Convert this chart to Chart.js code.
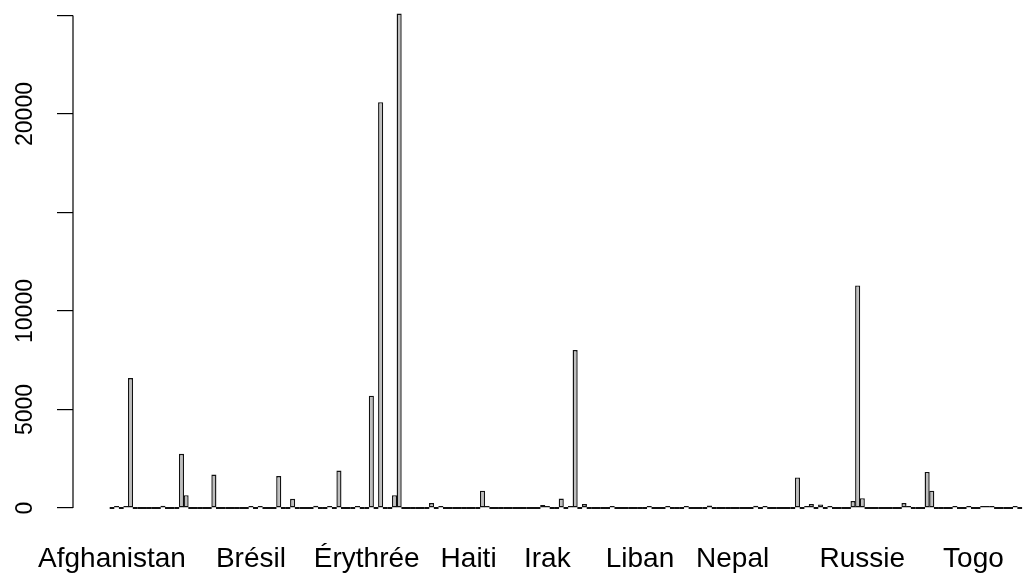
<!DOCTYPE html>
<html>
<head>
<meta charset="utf-8">
<script src="https://cdn.jsdelivr.net/npm/chart.js@4"></script>
<style>
  html, body { margin: 0; padding: 0; background: #fff; }
  canvas { display: block; }
</style>
</head>
<body>
<canvas id="chart" width="1023" height="581"></canvas>
<script>
/* ── Data ── */
// only the country names R had room to print, and the bar each one sits under
var countryLabels = ['Afghanistan', 'Brésil', 'Érythrée', 'Haiti', 'Irak', 'Liban', 'Nepal', 'Russie', 'Togo'];
var countryIndex = [0, 30, 55, 77, 94, 114, 134, 162, 186];

var yTicks = [0, 5000, 10000, 15000, 20000, 25000];
var yTickLabels = ['0', '5000', '10000', '', '20000', ''];

// one count per country, alphabetical order
var counts = [
  0, 40, 0, 60, 6600, 0, 0, 0, 0, 0,
  0, 120, 0, 0, 0, 2750, 650, 0, 0, 0,
  0, 0, 1700, 0, 0, 0, 0, 0, 0, 0,
  60, 0, 60, 0, 0, 0, 1620, 0, 0, 470,
  0, 0, 0, 0, 120, 0, 0, 100, 0, 1900,
  0, 0, 0, 100, 0, 0, 5700, 0, 20600, 0,
  0, 650, 25100, 0, 0, 0, 0, 0, 0, 250,
  0, 30, 0, 0, 0, 0, 0, 0, 0, 0,
  880, 30, 0, 0, 0, 0, 0, 0, 0, 0,
  0, 0, 0, 150, 30, 0, 0, 480, 0, 50,
  8020, 0, 200, 0, 0, 0, 0, 0, 50, 0,
  0, 0, 0, 0, 0, 0, 50, 0, 0, 0,
  60, 0, 0, 0, 100, 0, 0, 0, 0, 130,
  0, 0, 0, 0, 0, 0, 0, 0, 0, 120,
  0, 60, 0, 0, 0, 0, 0, 0, 1550, 0,
  60, 200, 0, 180, 0, 30, 0, 0, 0, 0,
  350, 11300, 500, 0, 0, 0, 0, 0, 0, 0,
  0, 250, 30, 0, 0, 0, 1830, 880, 0, 0,
  0, 0, 100, 0, 0, 60, 0, 0, 70, 80,
  70, 0, 0, 0, 0, 50, 0
];

var FONT = '"Liberation Sans", Arial, Helvetica, sans-serif';

/* ── R-style y axis: line from first to last tick, rotated labels ── */
var rAxis = {
  id: 'rAxis',
  afterDraw: function(chart) {
    var ctx = chart.ctx;
    var y = chart.scales.y;
    var x0 = chart.chartArea.left;
    ctx.save();
    ctx.strokeStyle = '#000';
    ctx.lineWidth = 1.2;
    ctx.beginPath();
    ctx.moveTo(x0, y.getPixelForValue(yTicks[0]));
    ctx.lineTo(x0, y.getPixelForValue(yTicks[yTicks.length - 1]));
    ctx.stroke();

    ctx.fillStyle = '#000';
    ctx.font = '23px ' + FONT;
    ctx.textAlign = 'center';
    ctx.textBaseline = 'middle';
    yTicks.forEach(function(v, i) {
      if (!yTickLabels[i]) return;
      ctx.save();
      ctx.translate(26, y.getPixelForValue(v));
      ctx.rotate(-Math.PI / 2);
      ctx.fillText(yTickLabels[i], 0, 0);
      ctx.restore();
    });
    ctx.restore();
  }
};

new Chart(document.getElementById('chart'), {
  type: 'bar',
  data: {
    datasets: [{
      data: counts.map(function(v, i) { return { x: i, y: v }; }),
      backgroundColor: '#bebebe',
      borderColor: '#111',
      borderWidth: 1.4,
      borderSkipped: false,
      minBarLength: 2,
      categoryPercentage: 1,
      barPercentage: 1.1
    }]
  },
  options: {
    responsive: false,
    animation: false,
    devicePixelRatio: 1,
    layout: { padding: 0 },
    plugins: { legend: { display: false }, tooltip: { enabled: false } },
    scales: {
      x: {
        type: 'linear',
        offset: false,
        min: -8.42,
        max: 196.7,
        afterBuildTicks: function(s) {
          s.ticks = countryIndex.map(function(v) { return { value: v }; });
        },
        afterFit: function(s) { s.height = 53; },
        grid: { display: false, drawTicks: false },
        border: { display: false },
        ticks: {
          autoSkip: false,
          maxRotation: 0,
          padding: 14,
          color: '#000',
          font: { family: FONT, size: 28 },
          callback: function(v) {
            var k = countryIndex.indexOf(v);
            return k < 0 ? '' : countryLabels[k];
          }
        }
      },
      y: {
        min: -1015,
        max: 25787,
        afterBuildTicks: function(s) {
          s.ticks = yTicks.map(function(v) { return { value: v }; });
        },
        afterFit: function(s) { s.width = 73; },
        grid: { drawOnChartArea: false, drawTicks: true, tickLength: 16, color: '#000', lineWidth: 1.2 },
        border: { display: false },
        ticks: { display: false }
      }
    }
  },
  plugins: [rAxis]
});
</script>
</body>
</html>
